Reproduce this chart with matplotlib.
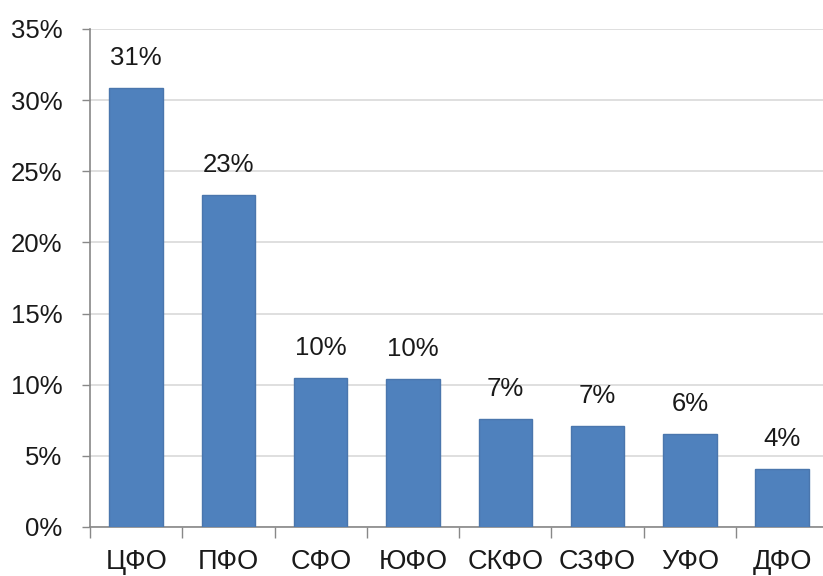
import matplotlib.pyplot as plt
import numpy as np

plt.rcParams['font.family'] = ['Liberation Sans', 'DejaVu Sans']

districts = ['ЦФО', 'ПФО', 'СФО', 'ЮФО', 'СКФО', 'СЗФО', 'УФО', 'ДФО']
shares = [30.85, 23.3, 10.5, 10.4, 7.6, 7.1, 6.5, 4.1]
share_labels = ['31%', '23%', '10%', '10%', '7%', '7%', '6%', '4%']
y_ticks = [0, 5, 10, 15, 20, 25, 30, 35]

fig = plt.figure(figsize=(8.23, 5.76), dpi=100)
ax = fig.add_axes([0.1094, 0.0851, 0.897, 0.8646])

x = np.arange(len(districts))
bars = ax.bar(x, shares, width=0.58, color='#4F81BD', edgecolor='#4A76AD',
              linewidth=1, zorder=3)

for b, lab in zip(bars, share_labels):
    ax.annotate(lab, (b.get_x() + b.get_width() / 2, b.get_height()),
                xytext=(0, 13), textcoords='offset points',
                ha='center', va='bottom', fontsize=18.5, color='#1a1a1a')

ax.set_xlim(-0.5, len(districts) - 0.5)
ax.set_ylim(0, 35)
ax.set_yticks(y_ticks)
ax.set_yticklabels([f'{t}%' for t in y_ticks], fontsize=18.5, color='#1a1a1a')
ax.set_xticks(x)
ax.set_xticklabels(districts, fontsize=19.5, color='#1a1a1a')
ax.tick_params(axis='x', length=0, pad=16)
ax.tick_params(axis='y', length=6, width=1, color='#888888', pad=14)
ax.set_xticks(np.arange(-0.5, len(districts) - 0.5), minor=True)
ax.tick_params(axis='x', which='minor', length=8, width=1, color='#888888')

ax.grid(axis='y', color='#D9D9D9', linewidth=1.2, zorder=0)
for s in ['top', 'right']:
    ax.spines[s].set_visible(False)
for s in ['left', 'bottom']:
    ax.spines[s].set_color('#888888')
    ax.spines[s].set_linewidth(1.2)

fig.savefig('out.png', dpi=100)
